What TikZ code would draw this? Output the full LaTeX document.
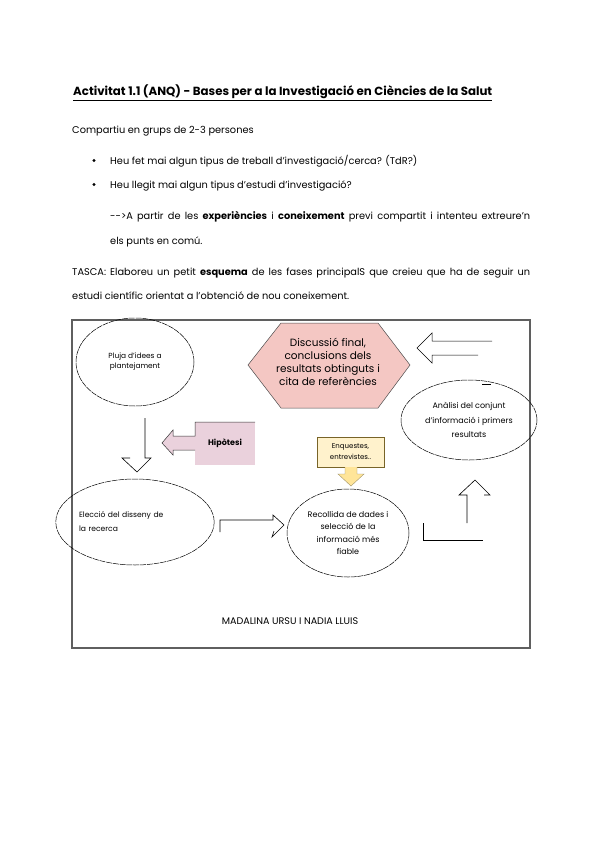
\documentclass[tikz,border=0pt]{standalone}
\usepackage{fontspec}
\setmainfont{Poppins}
\usepackage{tikz}
\usetikzlibrary{positioning,calc,shapes.geometric}
\definecolor{HexPink}{RGB}{244,199,195}
\definecolor{HipPink}{RGB}{234,209,220}
\definecolor{NoteYellow}{RGB}{255,242,204}
\definecolor{ArrowYellow}{RGB}{255,229,153}
\definecolor{NoteEdge}{RGB}{120,100,40}
\definecolor{FrameGray}{RGB}{95,95,95}
\tikzset{
  txt/.style={anchor=base west,inner sep=0pt,font=\fontsize{9.8}{11}\selectfont},
  phase/.style={ellipse,draw=black,dash pattern=on 6pt off 0.8pt,line width=0.5pt,inner sep=0pt,align=center},
  hollow/.style={draw=black,line width=0.6pt,line join=miter},
}
\tikzset{bul/.style={circle,fill=black,inner sep=1.2pt}}

\begin{document}
\begin{tikzpicture}[x=1pt,y=-1pt]
\useasboundingbox (0,0) rectangle (600,848);
% text above the diagram
\node[txt,font=\fontsize{11.8}{13}\selectfont\bfseries] (title) at (73,96) {\underline{Activitat 1.1 (ANQ) - Bases per a la Investigació en Ciències de la Salut}};
\node[txt] (intro) at (72,134) {Compartiu en grups de 2-3 persones};
\node[bul] (b1) at (94,160.5) {};
\node[bul] (b2) at (94,184.5) {};
\node[txt] (q1) at (110,164) {Heu fet mai algun tipus de treball d’investigació/cerca? (TdR?)};
\node[txt] (q2) at (110,188) {Heu llegit mai algun tipus d’estudi d’investigació?};
\node[txt] (p1) at (110,219) {\hbox to 420pt{-{}->A partir de les \textbf{experiències} i \textbf{coneixement} previ compartit i intenteu extreure’n}};
\node[txt] (p2) at (110,244) {els punts en comú.};
\node[txt] (t1) at (72,275) {\hbox to 458pt{TASCA: Elaboreu un petit \textbf{esquema} de les fases principalS que creieu que ha de seguir un}};
\node[txt] (t2) at (72,299) {estudi científic orientat a l’obtenció de nou coneixement.};

% diagram frame
\draw[FrameGray,line width=1.3pt] (72,320) rectangle (530,648);

% phases
\node[phase,minimum width=118pt,minimum height=88pt,font=\fontsize{7.4}{10}\selectfont] (pluja) at (135,362) {Pluja d’idees a\\plantejament};
\draw[draw=black!70,fill=HexPink,line width=0.5pt] (248,365) -- (281,323) -- (378,323) -- (410,365) -- (378,408) -- (281,408) -- cycle;
\node[align=center,inner sep=0pt,font=\fontsize{10.5}{12.8}\selectfont] (disc) at (328,362) {Discussió final,\\conclusions dels\\resultats obtinguts i\\cita de referències};
\node[phase,minimum width=136pt,minimum height=80pt,font=\fontsize{8}{14.5}\selectfont] (analisi) at (469,420) {Anàlisi del conjunt\\d’informació i primers\\resultats};
\node[phase,minimum width=126pt,minimum height=86pt,text width=112pt,align=left,font=\fontsize{7.6}{14}\selectfont] (eleccio) at (135,522) {Elecció del disseny de\\la recerca};
\node[phase,minimum width=122pt,minimum height=88pt,font=\fontsize{8}{12.3}\selectfont] (recollida) at (348,533) {Recollida de dades i\\selecció de la\\informació més\\fiable};

% side notes
\fill[HipPink] (195,422) rectangle (255,465);
\fill[HipPink] (195,436) -- (173,436) -- (173,430) -- (162,443) -- (173,455) -- (173,450) -- (195,450) -- cycle;
\draw[black!80,line width=0.5pt] (255,422) -- (195,422) -- (195,436) -- (173,436) -- (173,430) -- (162,443) -- (173,455) -- (173,450) -- (195,450);
\node[inner sep=0pt,font=\fontsize{8}{8}\selectfont\bfseries] (hipo) at (225,443) {Hipòtesi};

\draw[NoteEdge,fill=NoteYellow,line width=0.4pt] (317,437) rectangle (384,467);
\node[align=center,inner sep=0pt,font=\fontsize{7}{11}\selectfont] (enq) at (350.5,452) {Enquestes,\\entrevistes..};
\draw[NoteEdge!70,fill=ArrowYellow,line width=0.4pt] (345,467) -- (345,474) -- (338,474) -- (351,486) -- (364,474) -- (357,474) -- (357,467);

% arrows between phases
\draw[hollow] (145,418) -- (145,458) -- (151,458) -- (137,472) -- (122,458) -- (130,458);
\draw[hollow] (220,532) -- (220,520) -- (273,520) -- (273,515) -- (284,525) -- (272,537) -- (274,531);
\draw[hollow] (423,523) -- (423,540) -- (483,540);
\draw[hollow] (467,523) -- (467,495) -- (459,495) -- (475,480) -- (490,495) -- (484,495);
\draw[hollow,line width=0.5pt] (492,341) -- (432,341) -- (432,333) -- (417,348) -- (432,363) -- (432,355) -- (478,355);
\draw[hollow,line width=0.5pt] (482,384) -- (491,384);

\node[inner sep=0pt,font=\fontsize{9.6}{10}\selectfont] (autors) at (290,621) {MADALINA URSU I NADIA LLUIS};
\end{tikzpicture}
\end{document}
